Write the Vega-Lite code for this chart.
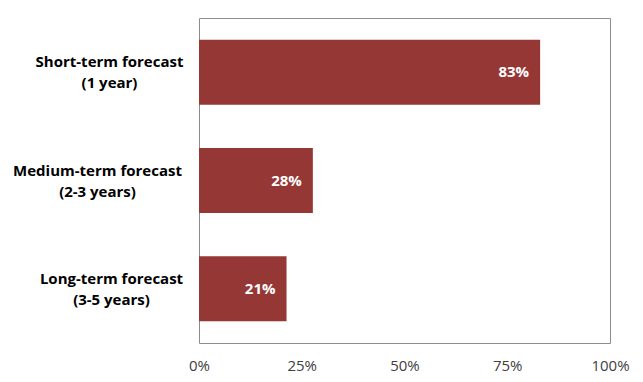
{
  "$schema": "https://vega.github.io/schema/vega-lite/v6.json",
  "width": 411,
  "height": 325,
  "autosize": "none",
  "padding": {"left": 199, "top": 18, "right": 33, "bottom": 39},
  "background": "white",
  "config": {
    "view": {"stroke": "#8c8c8c", "strokeWidth": 1},
    "font": "Open Sans"
  },
  "data": {
    "values": [
      {"term": "Short-term forecast|(1 year)", "share": 0.83},
      {"term": "Medium-term forecast|(2-3 years)", "share": 0.277},
      {"term": "Long-term forecast|(3-5 years)", "share": 0.213}
    ]
  },
  "encoding": {
    "y": {
      "field": "term",
      "type": "nominal",
      "sort": null,
      "scale": {"paddingInner": 0.4, "paddingOuter": 0.2},
      "axis": {
        "title": null,
        "domain": false,
        "ticks": false,
        "labelExpr": "split(datum.label, '|')",
        "labelFont": "Open Sans",
        "labelFontSize": 15,
        "labelFontWeight": "bold",
        "labelColor": "#000000",
        "labelAlign": "center",
        "labelBaseline": "middle",
        "labelLineHeight": 21,
        "labelOffset": -10,
        "labelLimit": 250,
        "labelPadding": {
          "condition": [
            {"test": "datum.value == 'Medium-term forecast|(2-3 years)'", "value": 102},
            {"test": "datum.value == 'Long-term forecast|(3-5 years)'", "value": 88}
          ],
          "value": 90
        }
      }
    },
    "x": {
      "field": "share",
      "type": "quantitative",
      "scale": {"domain": [0, 1], "nice": false},
      "axis": {
        "title": null,
        "values": [0, 0.25, 0.5, 0.75, 1],
        "format": ".0%",
        "grid": false,
        "domain": false,
        "ticks": false,
        "labelFont": "Open Sans",
        "labelFontSize": 15,
        "labelColor": "#404040",
        "labelPadding": 15,
        "labelFlush": false
      }
    }
  },
  "layer": [
    {"mark": {"type": "bar", "color": "#953735"}},
    {
      "mark": {
        "type": "text",
        "align": "right",
        "baseline": "middle",
        "dx": -11,
        "color": "white",
        "font": "Open Sans",
        "fontSize": 15,
        "fontWeight": "bold"
      },
      "encoding": {
        "text": {"field": "share", "type": "quantitative", "format": ".0%"}
      }
    }
  ]
}
